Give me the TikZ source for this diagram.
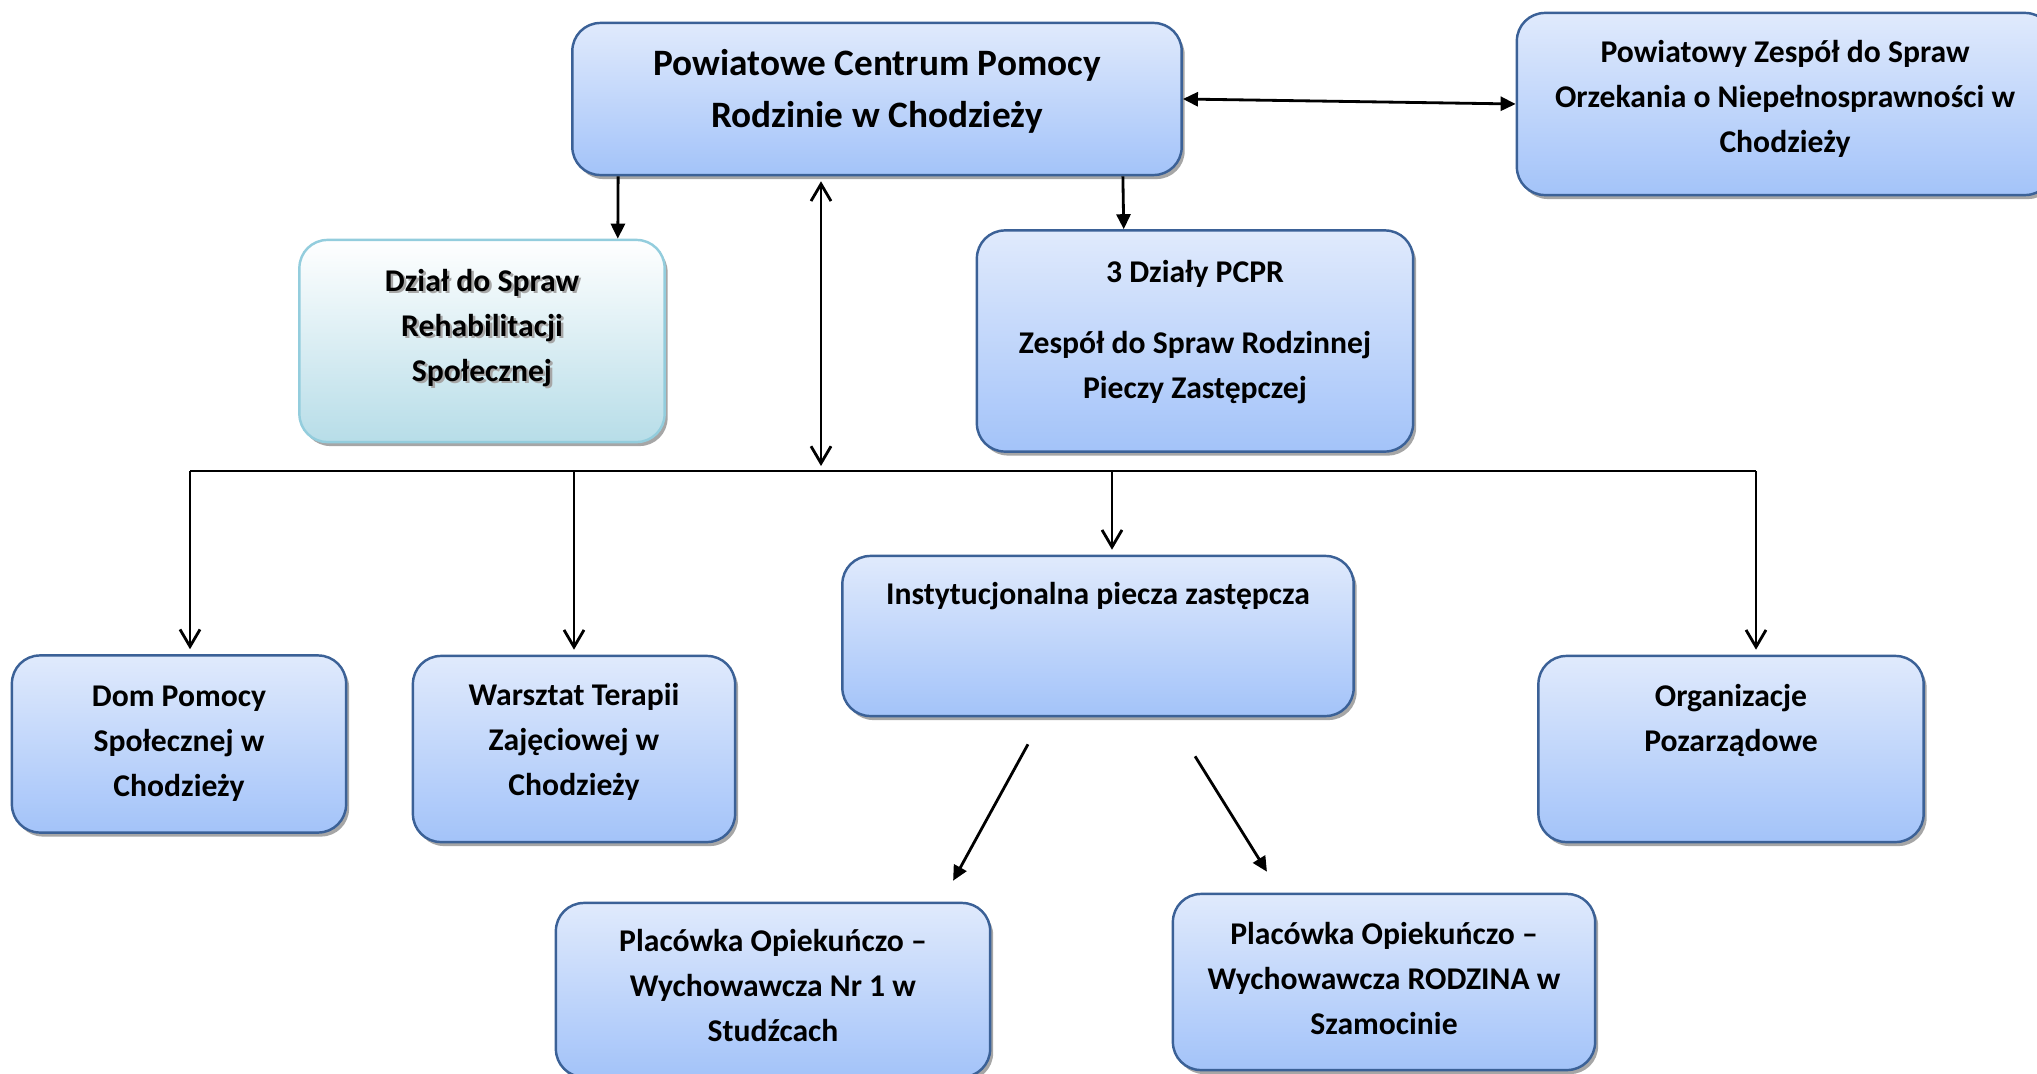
\documentclass[tikz,border=0pt]{standalone}
\usepackage{fontspec}
\setmainfont{Carlito}
\usetikzlibrary{arrows.meta,shadows}

\definecolor{boxtop}{HTML}{E0EAFC}
\definecolor{boxbot}{HTML}{A3C3F9}
\definecolor{boxline}{HTML}{3B6197}
\definecolor{rehabbot}{HTML}{B7DDE8}
\definecolor{rehabline}{HTML}{93CDDD}

% lower part of a text block, lifts the lines a little
\newcommand\lift[1]{\rule[-#1]{0pt}{0pt}}
% text with a light grey shadow
\newcommand\shtext[1]{\makebox[0pt][l]{\kern0.7pt\raisebox{-0.7pt}{\color{black!35}#1}}#1}

\begin{document}
\begin{tikzpicture}[
    x=0.01cm, y=-0.01cm,
    unit/.style={rectangle, draw=boxline, line width=0.7pt, top color=boxtop, bottom color=boxbot, rounded corners=0.28cm, align=center, font={\fontsize{9}{12.8}\selectfont\bfseries}, drop shadow={shadow xshift=0.03cm, shadow yshift=-0.04cm, fill=black, opacity=0.35}},
    rehab/.style={unit, draw=rehabline, top color=white, bottom color=rehabbot},
    link/.style={-{Triangle[length=0.15cm,width=0.14cm]}, line width=0.8pt},
    linkboth/.style={{Triangle[length=0.15cm,width=0.14cm]}-{Triangle[length=0.15cm,width=0.14cm]}, line width=0.8pt},
    feed/.style={-{Straight Barb[length=0.17cm,width=0.2cm]}, line width=0.8pt, shorten >=0.05cm},
    feedboth/.style={{Straight Barb[length=0.17cm,width=0.2cm]}-{Straight Barb[length=0.17cm,width=0.2cm]}, line width=0.8pt, shorten <=0.05cm, shorten >=0.05cm}
]
\useasboundingbox (0,0) rectangle (2037,1073);

% Top level
\node[unit, font={\fontsize{10.6}{14.8}\selectfont\bfseries}, minimum width=6.09cm, minimum height=1.52cm] (pcpr) at (877,99) {Powiatowe Centrum Pomocy\\Rodzinie w Chodzieży\lift{0.21cm}};
\node[unit, minimum width=5.36cm, minimum height=1.82cm] (zespol) at (1785,104) {Powiatowy Zespół do Spraw\\Orzekania o Niepełnosprawności w\\Chodzieży\lift{0.16cm}};

% Departments
\node[rehab, minimum width=3.65cm, minimum height=2.02cm] (dzial) at (482,341) {\shtext{Dział do Spraw}\\\shtext{Rehabilitacji}\\\shtext{Społecznej}\lift{0.32cm}};
\node[unit, minimum width=4.36cm, minimum height=2.21cm] (dzialy) at (1195,341) {3 Działy PCPR\\[0.26cm]Zespół do Spraw Rodzinnej\\Pieczy Zastępczej\lift{0.24cm}};

% Units
\node[unit, minimum width=3.34cm, minimum height=1.77cm] (dom) at (179,744) {Dom Pomocy\\Społecznej w\\Chodzieży};
\node[unit, minimum width=3.22cm, minimum height=1.86cm] (warsztat) at (574,749) {Warsztat Terapii\\Zajęciowej w\\Chodzieży\lift{0.19cm}};
\node[unit, minimum width=5.11cm, minimum height=1.60cm] (inst) at (1098,636) {Instytucjonalna piecza zastępcza\\[0.41cm]\mbox{}};
\node[unit, minimum width=3.85cm, minimum height=1.86cm] (org) at (1731,749) {Organizacje\\Pozarządowe\\[0.17cm]\mbox{}};

% Care facilities
\node[unit, minimum width=4.34cm, minimum height=1.74cm] (plac1) at (773,990) {Placówka Opiekuńczo –\\Wychowawcza Nr 1 w\\Studźcach\lift{0.10cm}};
\node[unit, minimum width=4.22cm, minimum height=1.76cm] (plac2) at (1384,982) {Placówka Opiekuńczo –\\Wychowawcza RODZINA w\\Szamocinie\lift{0.08cm}};

% Bus line
\coordinate (busL) at (190,471);
\coordinate (busC) at (821,471);
\coordinate (busR) at (1756,471);
\draw[line width=0.8pt] (busL) -- (busR);

% Connections
\draw[linkboth] (pcpr.east) -- (zespol.west);
\draw[link] ([xshift=0.47cm]pcpr.south west) -- ([xshift=-0.48cm]dzial.north east);
\draw[link] ([xshift=-0.60cm]pcpr.south east) -- ([xshift=1.48cm]dzialy.north west);
\draw[feedboth] (busC |- pcpr.south) -- (busC);

\draw[feed] (busL) -- (busL |- dom.north);
\draw[feed] (busL -| warsztat.north) -- (warsztat.north);
\draw[feed] ([xshift=0.14cm]inst.north |- busL) -- ([xshift=0.14cm]inst.north);
\draw[feed] (busR) -- (busR |- org.north);

\draw[link] ([xshift=-0.70cm,yshift=-0.27cm]inst.south) -- ([xshift=1.80cm,yshift=0.21cm]plac1.north);
\draw[link] ([xshift=0.97cm,yshift=-0.39cm]inst.south) -- ([xshift=-1.17cm,yshift=0.21cm]plac2.north);

\end{tikzpicture}
\end{document}
